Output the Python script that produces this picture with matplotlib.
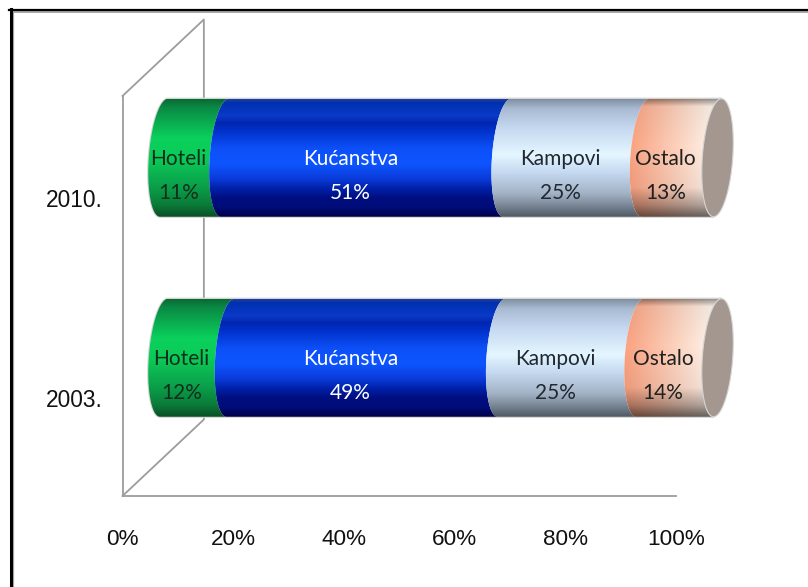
import matplotlib
matplotlib.use("Agg")
import matplotlib.pyplot as plt
import numpy as np
from matplotlib.colors import LinearSegmentedColormap, to_rgb
from matplotlib.lines import Line2D
from matplotlib.patches import PathPatch
from matplotlib.path import Path

# dados do grafico
years = ["2003.", "2010."]
categories = ["Hoteli", "Kućanstva", "Kampovi", "Ostalo"]
values_2003 = [12, 49, 25, 14]
values_2010 = [11, 51, 25, 13]
x_ticks = [0, 20, 40, 60, 80, 100]

label_font = "Lato"
axis_font = "Liberation Sans"
text_colors = ["#10301c", "white", "#202830", "#202020"]

# geometria do cilindro em unidades dos eixos
DEPTH_X, DEPTH_Y = 14.7, 0.3825
RX, RY, SKEW = 2.75, 0.295, 0.72
LABEL_DX, LABEL_DY = 4.65, 0.1

gradients = {
    "Hoteli": [(0, "#0a6a34"), (.07, "#0a8a44"), (.33, "#0ad05c"), (.5, "#0ccb58"),
               (.75, "#0a9e4a"), (.9, "#0a7a38"), (1, "#0a4f26")],
    "Kućanstva": [(0, "#20409a"), (.03, "#0030b0"), (.14, "#0a3ac8"), (.2, "#0026b0"),
                  (.26, "#0030c8"), (.42, "#0d50f8"), (.55, "#0d55ff"), (.68, "#0a3ad8"),
                  (.76, "#0020a8"), (.84, "#000e80"), (.92, "#000c78"), (1, "#000048")],
    "Kampovi": [(0, "#7f8fa3"), (.08, "#a9bbd2"), (.25, "#c5d9f1"), (.47, "#e4f6ff"),
                (.62, "#c5d9f1"), (.8, "#a3b3c6"), (.93, "#6f7b8a"), (1, "#4f5863")],
}
ostalo_left, ostalo_right = "#fa9f7c", "#fffdf6"
ostalo_shade = [(0, .6), (.06, .95), (.4, 1), (.75, .95), (.9, .68), (1, .4)]


def segment_path(x0, x1, yc):
    # dois arcos (metade esquerda da elipse) ligados em cima e em baixo
    t = np.linspace(-np.pi / 2, np.pi / 2, 60)
    dx = -RX * np.cos(t) + SKEW * np.sin(t)
    dy = RY * np.sin(t)
    left = np.column_stack([x0 + dx, yc + dy])
    right = np.column_stack([x1 + dx[::-1], yc + dy[::-1]])
    return Path(np.vstack([left, right, left[:1]]), closed=True)


def cap_path(x, yc):
    t = np.linspace(0, 2 * np.pi, 120)
    return Path(np.column_stack([x - RX * np.cos(t) + SKEW * np.sin(t), yc + RY * np.sin(t)]), closed=True)


def gradient_image(name):
    if name == "Ostalo":
        ys, shade = zip(*ostalo_shade)
        v = np.interp(np.linspace(0, 1, 200), ys, shade)
        h = np.linspace(0, 1, 120)
        a, b = np.array(to_rgb(ostalo_left)), np.array(to_rgb(ostalo_right))
        rgb = a[None, :] + h[:, None] * (b - a)[None, :]
        return rgb[None, :, :] * v[:, None, None]
    cmap = LinearSegmentedColormap.from_list(name, gradients[name])
    return cmap(np.linspace(0, 1, 256))[:, None, :3]


fig = plt.figure(figsize=(8.08, 5.87), dpi=100, facecolor="white")
ax = fig.add_axes([122.5 / 808, 91 / 587, 553.5 / 808, 400 / 587])
ax.set_xlim(0, 100)
ax.set_ylim(0, 2)

# parede de fundo
wall = "#9c9c9c"
ax.plot([0, DEPTH_X, DEPTH_X, 0], [2, 2 + DEPTH_Y, DEPTH_Y, 0], color=wall, lw=1.3,
        clip_on=False, zorder=1)

for yi, row in zip([0.5, 1.5], [values_2003, values_2010]):
    xc = DEPTH_X / 2 + 0.15
    yc = yi + DEPTH_Y / 2
    total = 0
    outline = segment_path(xc, xc + 100, yc)
    ax.add_patch(PathPatch(outline, fc="none", ec="#d4d4d4", lw=1.6, clip_on=False, zorder=2))
    for name, val, tc in zip(categories, row, text_colors):
        x0, x1 = xc + total, xc + total + val
        clip = PathPatch(segment_path(x0, x1, yc), transform=ax.transData, fc="none", ec="none")
        im = ax.imshow(gradient_image(name), extent=(x0 - RX - SKEW, x1 + SKEW, yc - RY, yc + RY),
                       aspect="auto", interpolation="bilinear", zorder=3)
        im.set_clip_box(fig.bbox)
        im.set_clip_path(clip)
        ax.text(total + val / 2 + LABEL_DX, yi + LABEL_DY, f"{name}\n{val}%", ha="center", va="center",
                fontfamily=label_font, fontsize=15, linespacing=1.85, color=tc, zorder=5, clip_on=False)
        total += val
    ax.add_patch(PathPatch(cap_path(xc + 100, yc), fc="#a3978f", ec="#d4d4d4", lw=0.8,
                           clip_on=False, zorder=4))

ax.set_xlim(0, 100)
ax.set_ylim(0, 2)
ax.set_xticks(x_ticks)
ax.set_xticklabels([f"{t}%" for t in x_ticks], fontfamily=axis_font, fontsize=16.2, color="#111111")
ax.set_yticks([0.49, 1.49])
ax.set_yticklabels(years, fontfamily=axis_font, fontsize=16.4, color="#111111")
ax.tick_params(axis="x", length=0, pad=23.5)
ax.tick_params(axis="y", length=0, pad=14)
for side in ["top", "right"]:
    ax.spines[side].set_visible(False)
for side in ["left", "bottom"]:
    ax.spines[side].set_color(wall)
    ax.spines[side].set_linewidth(1.3)

# moldura (so em cima e a esquerda)
def fx(p):
    return p / 808


def fy(p):
    return 1 - p / 587


fig.add_artist(Line2D([fx(11.5), fx(808)], [fy(11.8), fy(11.8)], color="#a8a8a8", lw=1.4))
fig.add_artist(Line2D([fx(12.5), fx(12.5)], [fy(11), fy(587)], color="#a8a8a8", lw=1.6))
fig.add_artist(Line2D([fx(9), fx(808)], [fy(10), fy(10)], color="black", lw=1.6))
fig.add_artist(Line2D([fx(10.5), fx(10.5)], [fy(9), fy(587)], color="black", lw=2.2))

fig.savefig("out.png", dpi=100)
